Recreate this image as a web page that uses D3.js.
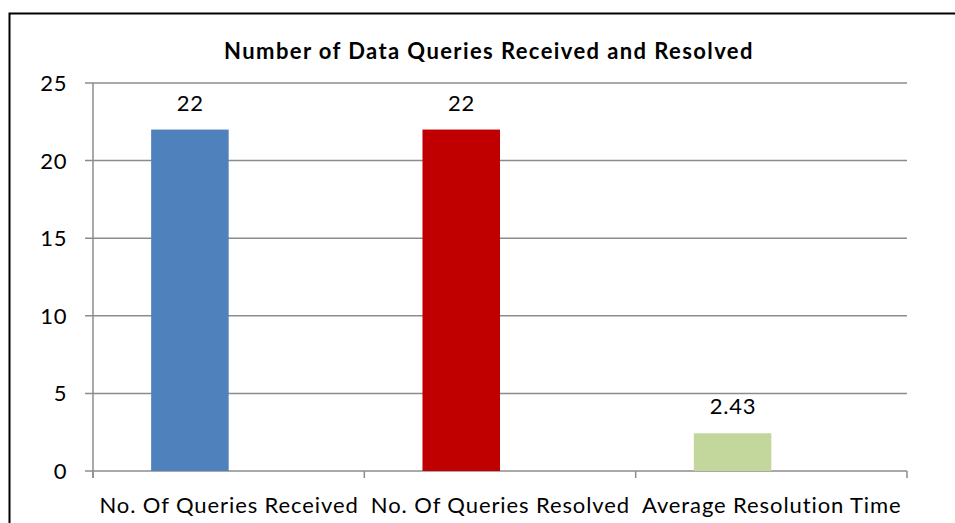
<!DOCTYPE html>
<html>
<head>
<meta charset="utf-8">
<script src="https://cdn.jsdelivr.net/npm/d3@7"></script>
<style>
    body { margin: 0; background: #fff; }
    svg { display: block; font-family: Lato, "Open Sans", sans-serif; }
</style>
</head>
<body>
<div id="container"></div>
<script>
// chart data
const categories = ["No. Of Queries Received", "No. Of Queries Resolved", "Average Resolution Time"]
const values = [22, 22, 2.43]
const valueLabels = ["22", "22", "2.43"]
const barColors = ["#4f81bd", "#c00000", "#c3d69b"]
const yTicks = [0, 5, 10, 15, 20, 25]
const title = "Number of Data Queries Received and Resolved"

let width = 955
let height = 523
let margin = {top: 83, right: 48, bottom: 52, left: 93}

let svg = d3.select("#container")
    .append("svg")
    .attr("width", width)
    .attr("height", height)

// outer chart frame (runs off the right and bottom of the picture)
svg.append("rect")
    .attr("x", 9.5)
    .attr("y", 13.5)
    .attr("width", 1000)
    .attr("height", 600)
    .attr("fill", "none")
    .attr("stroke", "#000")
    .attr("stroke-width", 2)

let x = d3.scaleBand()
    .domain(categories)
    .range([margin.left, width - margin.right])
    .padding(0)

// two slots per category, only the first is used (like an Excel cluster)
let xSub = d3.scaleBand()
    .domain([0, 1])
    .range([0, x.bandwidth()])
    .paddingInner(0)
    .paddingOuter(0.75)

let y = d3.scaleLinear()
    .domain([0, 25])
    .range([height - margin.bottom, margin.top])

// gridlines
svg.append("g")
    .selectAll("line")
    .data(yTicks)
    .join("line")
        .attr("x1", margin.left - 8)
        .attr("x2", width - margin.right)
        .attr("y1", d => y(d))
        .attr("y2", d => y(d))
        .attr("stroke", "#8c8c8c")
        .attr("stroke-width", 1.5)

// y axis line
svg.append("line")
    .attr("x1", margin.left)
    .attr("x2", margin.left)
    .attr("y1", y(25))
    .attr("y2", y(0) + 7)
    .attr("stroke", "#8c8c8c")
    .attr("stroke-width", 1.5)

// x category boundary ticks
let bounds = categories.map(c => x(c)).concat([x(categories[categories.length - 1]) + x.bandwidth()])
svg.append("g")
    .selectAll("line")
    .data(bounds)
    .join("line")
        .attr("x1", d => d)
        .attr("x2", d => d)
        .attr("y1", y(0))
        .attr("y2", y(0) + 7)
        .attr("stroke", "#8c8c8c")
        .attr("stroke-width", 1.5)

// y tick labels
svg.append("g")
    .selectAll("text")
    .data(yTicks)
    .join("text")
        .attr("x", margin.left - 26)
        .attr("y", d => y(d) + 8)
        .attr("text-anchor", "end")
        .attr("font-size", 22)
        .attr("letter-spacing", 0.6)
        .attr("fill", "#000")
        .text(d => d)

// bars
svg.append("g")
    .selectAll("rect")
    .data(values)
    .join("rect")
        .attr("x", (d, i) => x(categories[i]) + xSub(0))
        .attr("y", d => y(d))
        .attr("width", xSub.bandwidth())
        .attr("height", d => y(0) - y(d))
        .attr("fill", (d, i) => barColors[i])

// value labels
svg.append("g")
    .selectAll("text")
    .data(values)
    .join("text")
        .attr("x", (d, i) => x(categories[i]) + xSub(0) + xSub.bandwidth() / 2 + 0.4)
        .attr("y", d => y(d) - 19)
        .attr("text-anchor", "middle")
        .attr("font-size", 22)
        .attr("letter-spacing", 0.8)
        .attr("fill", "#000")
        .text((d, i) => valueLabels[i])

// category labels
svg.append("g")
    .selectAll("text")
    .data(categories)
    .join("text")
        .attr("x", d => x(d) + x.bandwidth() / 2 + 0.45)
        .attr("y", y(0) + 42)
        .attr("text-anchor", "middle")
        .attr("font-size", 22)
        .attr("letter-spacing", 0.9)
        .attr("fill", "#000")
        .text(d => d)

// title
svg.append("text")
    .attr("x", 489)
    .attr("y", 59)
    .attr("text-anchor", "middle")
    .attr("font-size", 22)
    .attr("font-weight", "bold")
    .attr("letter-spacing", 1.4)
    .attr("fill", "#000")
    .text(title)
</script>
</body>
</html>
